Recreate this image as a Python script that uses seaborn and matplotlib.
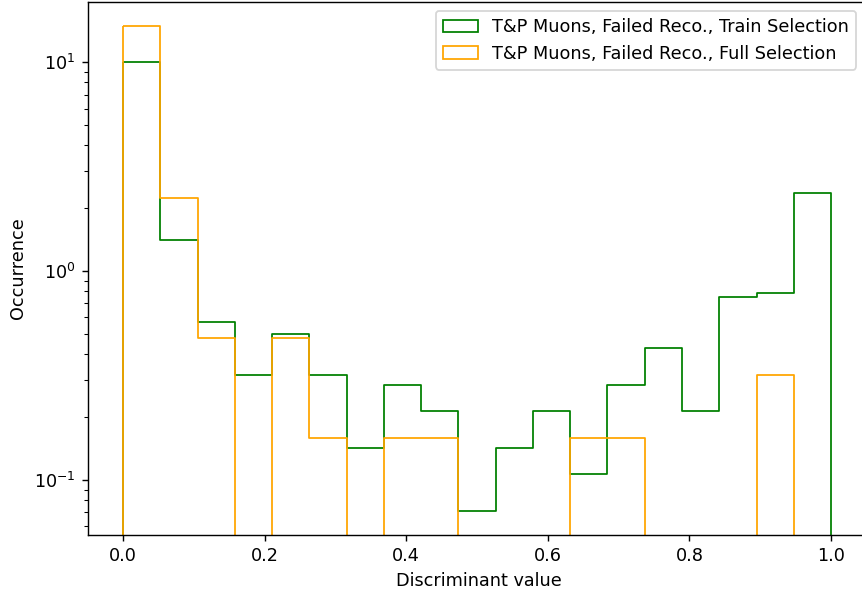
import numpy as np
import pandas as pd
import matplotlib
matplotlib.use("Agg")
import matplotlib.pyplot as plt
import seaborn as sns

# 19 equal bins between 0 and 1
n_bins = 19
bin_edges = np.linspace(0.0, 1.0, n_bins + 1)
bin_centers = 0.5 * (bin_edges[:-1] + bin_edges[1:])

train_sel = [10.0, 1.41, 0.57, 0.32, 0.50, 0.32, 0.142, 0.285, 0.214, 0.071,
             0.142, 0.214, 0.107, 0.285, 0.428, 0.214, 0.75, 0.785, 2.36]
full_sel = [14.9, 2.24, 0.478, 0.0, 0.478, 0.159, 0.0, 0.159, 0.159, 0.0,
            0.0, 0.0, 0.159, 0.159, 0.0, 0.0, 0.0, 0.318, 0.0]

labels = ["T&P Muons, Failed Reco., Train Selection",
          "T&P Muons, Failed Reco., Full Selection"]
colors = ["green", "orange"]

dpi = 127
fig = plt.figure(figsize=(862 / dpi, 592 / dpi), dpi=dpi)
# axes run a little past the right edge, like the cropped original
ax = fig.add_axes([0.1021, 0.0963, 0.9072, 0.9003])
ax.set_yscale("log")

for vals, lab, col in zip([train_sel, full_sel], labels, colors):
    df = pd.DataFrame({"x": bin_centers, "w": vals})
    sns.histplot(data=df, x="x", weights="w", bins=n_bins, binrange=(0, 1),
                 stat="count", element="step", fill=True, facecolor="none",
                 color=col, alpha=1, linewidth=1.0, label=lab, ax=ax)

ax.set_xlim(-0.0494, 1.055)
ax.set_ylim(0.0546, 19.4)
ax.set_xlabel("Discriminant value")
ax.set_ylabel("Occurrence")
ax.legend(loc="upper right", bbox_to_anchor=(0.9935, 1.0))

fig.savefig("out.png", dpi=dpi)
